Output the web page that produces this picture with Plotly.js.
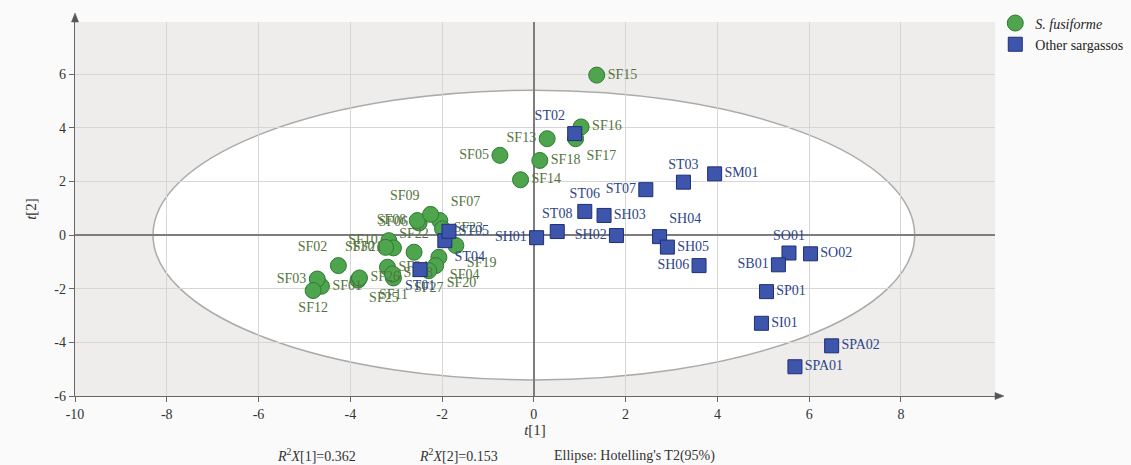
<!DOCTYPE html>
<html>
<head>
<meta charset="utf-8">
<script src="https://cdn.plot.ly/plotly-3.0.1.min.js"></script>
<style>
html,body{margin:0;padding:0;background:#fafafa;}
#chart{width:1131px;height:465px;}
</style>
</head>
<body>
<div id="chart"></div>
<script>
// ---- Data ----
const sfNames = ["SF01","SF02","SF03","SF04","SF05","SF06","SF07","SF08","SF09","SF10","SF11","SF12","SF13","SF14","SF15","SF16","SF17","SF18","SF19","SF20","SF21","SF22","SF23","SF24","SF25","SF26","SF27","SF28","SF30"];
const sfT1 = [-4.63,-4.26,-4.72,-2.07,-0.74,-2.50,-2.05,-2.54,-2.25,-3.16,-3.06,-4.81,0.29,-0.29,1.37,1.03,0.91,0.13,-1.70,-2.14,-3.06,-2.61,-1.99,-3.19,-3.83,-3.80,-2.29,-3.08,-3.23];
const sfT2 = [-1.91,-1.14,-1.64,-0.83,2.97,0.45,0.54,0.54,0.77,-0.21,-1.60,-2.07,3.59,2.06,5.96,4.03,3.59,2.78,-0.39,-1.14,-0.48,-0.64,0.23,-1.20,-1.68,-1.60,-1.33,-1.45,-0.46];

const otherNames = ["ST01","ST02","ST03","ST04","ST05","ST06","ST07","ST08","SH01","SH02","SH03","SH04","SH05","SH06","SM01","SO01","SO02","SB01","SP01","SI01","SPA01","SPA02"];
const otherT1 = [-2.48,0.89,3.26,-1.94,-1.85,1.11,2.44,0.51,0.06,1.80,1.53,2.74,2.91,3.60,3.94,5.56,6.03,5.33,5.07,4.96,5.69,6.49];
const otherT2 = [-1.29,3.78,1.97,-0.21,0.14,0.88,1.69,0.13,-0.10,-0.02,0.73,-0.06,-0.45,-1.14,2.28,-0.67,-0.70,-1.11,-2.11,-3.29,-4.91,-4.13];

const xTicks = [-10,-8,-6,-4,-2,0,2,4,6,8];
const yTicks = [-6,-4,-2,0,2,4,6];

// ---- Label placement (style) ----
const labelPos = {
  SF01:"middle right", SF02:"top left", SF03:"middle left", SF04:"bottom right", SF05:"middle left",
  SF06:"middle left", SF07:"top right", SF08:"middle left", SF09:"top left", SF10:"middle left",
  SF11:"bottom center", SF12:"bottom center", SF13:"middle left", SF14:"middle right", SF15:"middle right",
  SF16:"middle right", SF17:"bottom right", SF18:"middle right", SF19:"bottom right", SF20:"bottom right",
  SF21:"middle left", SF22:"top center", SF23:"middle right", SF24:"middle right", SF25:"bottom right",
  SF26:"middle right", SF27:"bottom center", SF28:"middle right", SF30:"middle left",
  ST01:"bottom center", ST02:"top left", ST03:"top center", ST04:"bottom right", ST05:"middle right",
  ST06:"top center", ST07:"middle left", ST08:"top center", SH01:"middle left", SH02:"middle left",
  SH03:"middle right", SH04:"top right", SH05:"middle right", SH06:"middle left", SM01:"middle right",
  SO01:"top center", SO02:"middle right", SB01:"middle left", SP01:"middle right", SI01:"middle right",
  SPA01:"middle right", SPA02:"middle right"
};

const serif = "Liberation Serif, Times New Roman, serif";

const traceSF = {
  type: "scatter", mode: "markers+text", name: "<i>S. fusiforme</i>",
  x: sfT1, y: sfT2, text: sfNames,
  textposition: sfNames.map(n => labelPos[n] || "middle right"),
  textfont: {family: serif, size: 14, color: "#55733d"},
  marker: {symbol: "circle", size: 16, color: "#4ea54e", line: {color: "#2f7a33", width: 1}},
  cliponaxis: false, hoverinfo: "text"
};
const traceOther = {
  type: "scatter", mode: "markers+text", name: "Other sargassos",
  x: otherT1, y: otherT2, text: otherNames,
  textposition: otherNames.map(n => labelPos[n] || "middle right"),
  textfont: {family: serif, size: 14, color: "#2e4488"},
  marker: {symbol: "square", size: 14, color: "#3d56ac", line: {color: "#1e2e78", width: 1}},
  cliponaxis: false, hoverinfo: "text"
};

const layout = {
  width: 1131, height: 465,
  paper_bgcolor: "#fafafa", plot_bgcolor: "#eeedeb",
  margin: {l: 75, r: 136, t: 22, b: 69},
  font: {family: serif, size: 14, color: "#333"},
  showlegend: true,
  legend: {xref: "container", yref: "container", x: 0.880, y: 0.984, xanchor: "left", yanchor: "top",
           bgcolor: "rgba(0,0,0,0)",
           font: {family: serif, size: 14, color: "#222"}, tracegroupgap: 2, itemwidth: 30},
  xaxis: {
    range: [-10, 10.05], tickvals: xTicks, ticktext: xTicks.map(String),
    showgrid: true, gridcolor: "#d6d6d6", gridwidth: 1,
    zeroline: true, zerolinecolor: "#7d7d7d", zerolinewidth: 1.5,
    showline: true, linecolor: "#666", linewidth: 1.2,
    ticks: "outside", ticklen: 5, tickcolor: "#666",
    tickfont: {family: serif, size: 14, color: "#333"},
    title: {text: "<i>t</i>[1]", font: {family: serif, size: 15, color: "#333"}, standoff: 2},
    fixedrange: true, automargin: false
  },
  yaxis: {
    range: [-6, 7.94], tickvals: yTicks, ticktext: yTicks.map(String),
    showgrid: true, gridcolor: "#d6d6d6", gridwidth: 1,
    zeroline: true, zerolinecolor: "#7d7d7d", zerolinewidth: 1.5,
    showline: true, linecolor: "#666", linewidth: 1.2,
    ticks: "outside", ticklen: 5, tickcolor: "#666",
    tickfont: {family: serif, size: 14, color: "#333"},
    title: {text: "<i>t</i>[2]", font: {family: serif, size: 15, color: "#333"}, standoff: 14},
    fixedrange: true, automargin: false
  },
  shapes: [
    {type: "circle", xref: "x", yref: "y", x0: -8.3, x1: 8.3, y0: -5.4, y1: 5.4,
     fillcolor: "#ffffff", line: {color: "#aaaaaa", width: 1.5}, layer: "below"},
    // arrow heads on the axis ends
    {type: "path", xref: "paper", yref: "paper", xsizemode: "pixel", ysizemode: "pixel",
     xanchor: 0, yanchor: 1, path: "M -3.5 0 L 3.5 0 L 0 9 Z",
     fillcolor: "#555", line: {color: "#555", width: 0.5}, layer: "above"},
    {type: "path", xref: "paper", yref: "paper", xsizemode: "pixel", ysizemode: "pixel",
     xanchor: 1, yanchor: 0, path: "M 0 -3.5 L 0 3.5 L 9 0 Z",
     fillcolor: "#555", line: {color: "#555", width: 0.5}, layer: "above"}
  ],
  annotations: [
    {xref: "paper", yref: "paper", x: 0.2175, y: 0, yshift: -70, xanchor: "left", yanchor: "bottom", showarrow: false,
     text: "<i>R</i><sup>2</sup><i>X</i>[1]=0.362", font: {family: serif, size: 14, color: "#333"}},
    {xref: "paper", yref: "paper", x: 0.372, y: 0, yshift: -70, xanchor: "left", yanchor: "bottom", showarrow: false,
     text: "<i>R</i><sup>2</sup><i>X</i>[2]=0.153", font: {family: serif, size: 14, color: "#333"}},
    {xref: "paper", yref: "paper", x: 0.519, y: 0, yshift: -70, xanchor: "left", yanchor: "bottom", showarrow: false,
     text: "Ellipse: Hotelling's T2(95%)", font: {family: serif, size: 14, color: "#333"}}
  ]
};

Plotly.newPlot("chart", [traceSF, traceOther], layout, {displayModeBar: false, staticPlot: true});
</script>
</body>
</html>
